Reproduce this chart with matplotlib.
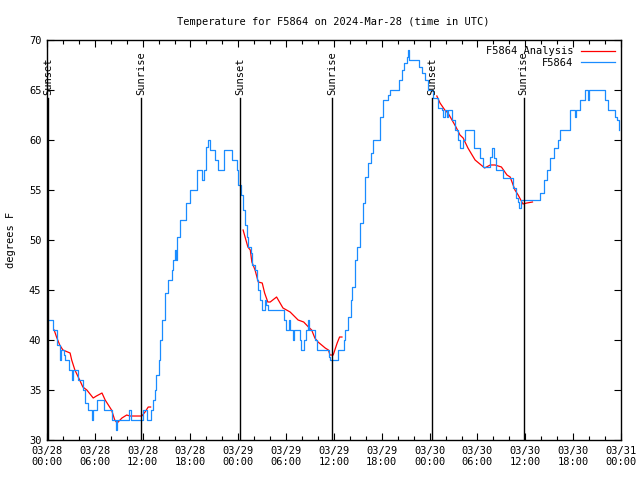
import matplotlib.pyplot as plt

# hours since 2024-03-28 00:00 UTC
obs_hours = [0.0, 0.75, 0.8, 1.0, 1.3, 1.6, 1.8, 2.1, 2.3, 2.8, 3.1, 3.3, 3.7, 3.9, 4.3, 4.5,
             4.8, 5.1, 5.5, 5.7, 5.8, 6.2, 6.3, 7.0, 7.1, 7.9, 8.1, 8.7, 8.8, 10.2, 10.3,
             10.5, 10.6, 11.8, 12.0, 12.3, 12.5, 12.8, 13.0, 13.1, 13.3, 13.5, 13.7, 14.0,
             14.2, 14.4, 14.8, 15.2, 15.7, 15.8, 16.1, 16.2, 16.3, 16.7, 17.3, 17.5, 17.9,
             18.3, 18.8, 19.0, 19.4, 19.7, 20.0, 20.2, 20.4, 20.8, 21.1, 21.3, 21.5, 22.0,
             22.2, 23.0, 23.2, 23.5, 23.8, 24.0, 24.3, 24.6, 24.8, 25.1, 25.2, 25.6, 25.7,
             26.1, 26.3, 26.5, 26.7, 27.0, 27.3, 27.5, 27.7, 29.6, 29.7, 30.0, 30.3, 30.5,
             30.8, 31.0, 31.5, 31.7, 31.9, 32.2, 32.5, 32.8, 32.9, 33.2, 33.6, 33.8, 33.9,
             35.3, 35.4, 35.5, 36.4, 36.5, 37.0, 37.2, 37.4, 37.8, 38.1, 38.3, 38.6, 38.9,
             39.3, 39.6, 39.9, 40.3, 40.7, 40.9, 41.5, 41.8, 42.2, 42.8, 43.0, 43.8, 44.1,
             44.5, 44.8, 45.2, 45.3, 45.4, 46.4, 46.7, 47.0, 47.4, 47.8, 48.3, 48.4, 48.9,
             49.1, 49.5, 49.7, 49.9, 50.2, 50.3, 50.8, 51.2, 51.6, 51.8, 52.1, 52.2, 52.4,
             53.3, 53.5, 54.1, 54.3, 54.7, 55.3, 55.6, 55.8, 56.1, 56.3, 57.1, 57.2, 58.1,
             58.5, 58.8, 59.1, 59.2, 59.5, 61.6, 61.9, 62.3, 62.7, 63.1, 63.6, 64.1, 64.4,
             65.5, 65.6, 66.2, 66.4, 66.8, 67.3, 67.5, 67.8, 68.0, 69.8, 70.0, 70.4, 70.8,
             71.3, 71.5, 71.8]
obs_temps = [42, 42, 41, 41, 39.5, 38, 39, 38.5, 38, 37, 36, 37, 37, 36, 36, 35,
             33.7, 33, 33, 32, 33, 33, 34, 34, 33, 33, 32, 31, 32, 32, 33,
             32.5, 32, 32, 33, 33, 32, 32, 32.5, 33, 34, 35, 36.5, 38,
             40, 42, 44.7, 46, 47, 48, 49, 48, 50.3, 52, 52, 53.7, 55,
             55, 57, 57, 56, 57, 59.3, 60, 59, 59, 58, 58, 57, 57,
             59, 59, 58, 58, 57, 55.5, 54.5, 53, 51.5, 50.3, 49.3, 48.7, 47.5,
             47, 46, 45, 44, 43, 44, 43.5, 43, 43, 42, 41, 42, 41,
             40, 41, 41, 40, 39, 40, 41, 42, 41, 41, 40, 40, 39,
             39, 38.3, 38, 38, 39, 39, 40, 41, 42.3, 44, 45.3, 48, 49.3,
             51.7, 53.7, 56.3, 57.7, 58.7, 60, 60, 62.3, 64, 64.5, 65, 65, 66,
             67, 67.7, 68.3, 69, 68, 68, 67.3, 66.7, 66, 65, 65, 64.2, 64.2,
             63.2, 63, 62.3, 63, 62.3, 63, 62, 61, 60, 59.2, 59.2, 60, 61,
             61, 59.2, 59.2, 58.2, 57.3, 57.3, 58.3, 59.2, 58.2, 57, 57, 56.2, 56.2,
             55.2, 54.2, 53.8, 53.2, 54, 54, 54.7, 56, 57, 58.2, 59.2, 60, 61,
             61, 63, 62.3, 63, 64, 64, 65, 64, 65, 65, 64, 63, 63,
             62.3, 62, 61]

# analysis, three separate runs
ana1_hours = [0.9, 1.2, 1.6, 2.0, 2.9, 3.1, 3.5, 4.1, 4.5, 5.0, 5.8, 6.2, 6.9, 7.3, 7.7,
              8.1, 8.5, 8.8, 9.4, 10.0, 10.4, 11.9, 12.3, 12.7, 13.0]
ana1_temps = [41, 40.3, 39.5, 39, 38.7, 38, 37, 36, 35.3, 35, 34.2, 34.4, 34.7, 34, 33.5,
              33, 32, 31.7, 32.2, 32.5, 32.4, 32.4, 32.8, 33.3, 33.3]
ana2_hours = [24.6, 25.2, 25.5, 25.7, 26.1, 26.5, 27.0, 27.3, 27.7, 28.0, 28.8, 29.6, 30.5,
              31.5, 32.2, 32.8, 33.2, 33.6, 34.0, 34.9, 35.3, 35.5, 35.9, 36.4, 36.7, 37.0]
ana2_temps = [51, 49.3, 49, 47.8, 47, 45.8, 45.7, 44.7, 43.8, 43.8, 44.3, 43.2, 42.8,
              42, 41.8, 41.3, 41, 40.2, 39.8, 39.2, 39, 38.5, 38.5, 39.7, 40.3, 40.3]
ana3_hours = [48.9, 49.3, 49.9, 50.3, 50.8, 51.3, 51.8, 52.2, 52.8, 53.7, 54.9, 55.6, 56.2,
              57.0, 57.7, 58.1, 58.7, 59.1, 59.7, 60.2, 60.9]
ana3_temps = [64.4, 63.7, 63, 62.7, 62, 61.3, 60.5, 60.2, 59.2, 58, 57.2, 57.5, 57.5,
              57.3, 56.5, 56.3, 55, 54.5, 53.6, 53.7, 53.8]

sun_hours = [0.1, 11.8, 24.2, 35.8, 48.3, 59.8]
sun_labels = ["Sunset", "Sunrise", "Sunset", "Sunrise", "Sunset", "Sunrise"]

tick_hours = [0, 6, 12, 18, 24, 30, 36, 42, 48, 54, 60, 66, 72]
tick_labels = ["03/28\n00:00", "03/28\n06:00", "03/28\n12:00", "03/28\n18:00",
               "03/29\n00:00", "03/29\n06:00", "03/29\n12:00", "03/29\n18:00",
               "03/30\n00:00", "03/30\n06:00", "03/30\n12:00", "03/30\n18:00",
               "03/31\n00:00"]

mono = "DejaVu Sans Mono"
red = "#ff0000"
blue = "#1a8cff"

fig = plt.figure(figsize=(6.4, 4.8), dpi=100)
ax = fig.add_axes([0.0734, 0.0833, 0.8969, 0.8334])

ax.plot(ana1_hours, ana1_temps, color=red, lw=0.9, label="F5864 Analysis")
ax.plot(ana2_hours, ana2_temps, color=red, lw=0.9)
ax.plot(ana3_hours, ana3_temps, color=red, lw=0.9)
ax.plot(obs_hours, obs_temps, color=blue, lw=0.9, drawstyle="steps-post", label="F5864")

for h, lab in zip(sun_hours, sun_labels):
    ax.plot([h, h], [30, 64.2], color="black", lw=1.0)
    ax.text(h, 64.5, lab, rotation=90, ha="center", va="bottom",
            fontsize=7.5, family=mono)

ax.set_xlim(0, 72)
ax.set_ylim(30, 70)
ax.set_xticks(tick_hours)
ax.set_xticklabels(tick_labels, family=mono, fontsize=7.5)
ax.set_xticks(range(0, 73, 2), minor=True)
ax.set_yticks(range(30, 71, 5))
ax.set_yticklabels([str(v) for v in range(30, 71, 5)], family=mono, fontsize=7.5)
ax.tick_params(which="both", direction="in", top=True, right=True, width=0.8)
ax.tick_params(which="major", length=5, pad=4)
ax.tick_params(which="minor", length=3)
for s in ax.spines.values():
    s.set_linewidth(1.0)

ax.set_ylabel("degrees F", family=mono, fontsize=7.5, labelpad=9)
fig.suptitle("Temperature for F5864 on 2024-Mar-28 (time in UTC)",
             family=mono, fontsize=7.5, x=0.52, y=0.965)

leg = ax.legend(loc="upper right", frameon=False, markerfirst=False,
                prop={"family": mono, "size": 7.5}, handlelength=3.2,
                borderaxespad=0.2, labelspacing=0.15)

fig.savefig("out.png", dpi=100)
